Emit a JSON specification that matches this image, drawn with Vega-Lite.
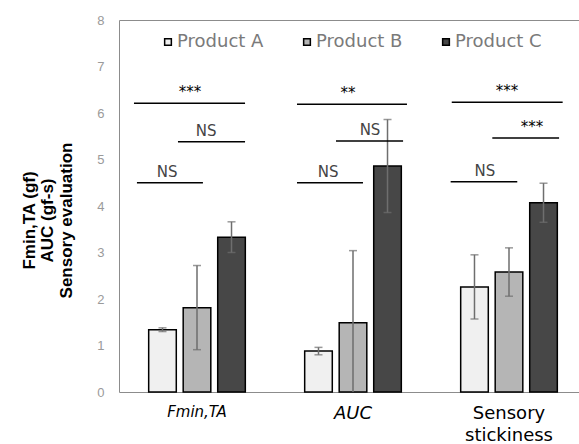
{
  "$schema": "https://vega.github.io/schema/vega-lite/v6.json",
  "width": 460,
  "height": 372,
  "autosize": {"type": "none"},
  "padding": {"left": 119, "top": 20, "right": 0, "bottom": 52},
  "background": "white",
  "config": {
    "view": {"stroke": null},
    "font": "DejaVu Sans",
    "axisY": {"titleFontSize": 17, "titleFont": "Liberation Sans", "titleFontWeight": "bold", "titleColor": "black"}
  },
  "datasets": {
    "bars": [
      {"group": "Fmin,TA", "product": "Product A", "value": 1.34, "lo": 1.30, "hi": 1.38},
      {"group": "Fmin,TA", "product": "Product B", "value": 1.81, "lo": 0.91, "hi": 2.72},
      {"group": "Fmin,TA", "product": "Product C", "value": 3.33, "lo": 3.00, "hi": 3.66},
      {"group": "AUC", "product": "Product A", "value": 0.88, "lo": 0.80, "hi": 0.96},
      {"group": "AUC", "product": "Product B", "value": 1.49, "lo": -0.06, "hi": 3.04},
      {"group": "AUC", "product": "Product C", "value": 4.86, "lo": 3.86, "hi": 5.86},
      {"group": "Sensory stickiness", "product": "Product A", "value": 2.26, "lo": 1.57, "hi": 2.95},
      {"group": "Sensory stickiness", "product": "Product B", "value": 2.58, "lo": 2.06, "hi": 3.10},
      {"group": "Sensory stickiness", "product": "Product C", "value": 4.07, "lo": 3.65, "hi": 4.49}
    ],
    "sig": [
      {"x1": 0.096, "x2": 0.808, "y": 6.21, "lx": 0.455, "label": "***"},
      {"x1": 0.378, "x2": 0.808, "y": 5.38, "lx": 0.558, "label": "NS"},
      {"x1": 0.115, "x2": 0.538, "y": 4.50, "lx": 0.308, "label": "NS"},
      {"x1": 1.141, "x2": 1.846, "y": 6.19, "lx": 1.468, "label": "**"},
      {"x1": 1.391, "x2": 1.821, "y": 5.40, "lx": 1.609, "label": "NS"},
      {"x1": 1.141, "x2": 1.564, "y": 4.50, "lx": 1.340, "label": "NS"},
      {"x1": 2.133, "x2": 2.844, "y": 6.23, "lx": 2.487, "label": "***"},
      {"x1": 2.393, "x2": 2.821, "y": 5.46, "lx": 2.647, "label": "***"},
      {"x1": 2.126, "x2": 2.553, "y": 4.52, "lx": 2.346, "label": "NS"}
    ]
  },
  "layer": [
    {
      "data": {"name": "bars"},
      "encoding": {
        "x": {
          "field": "group", "type": "nominal",
          "sort": ["Fmin,TA", "AUC", "Sensory stickiness"],
          "scale": {"range": [0, 468], "paddingInner": 0, "paddingOuter": 0},
          "axis": {
            "title": null, "ticks": false, "domain": true, "domainColor": "#8c8c8c", "domainWidth": 1,
            "labelAngle": 0, "labelColor": "black", "labelPadding": 12, "labelLineHeight": 22,
            "labelFont": "DejaVu Sans",
            "labelExpr": "datum.value == 'Sensory stickiness' ? ['Sensory', 'stickiness'] : datum.value",
            "labelFontSize": {"condition": {"test": "datum.value == 'Fmin,TA'", "value": 15}, "value": 18},
            "labelFontStyle": {"condition": {"test": "datum.value != 'Sensory stickiness'", "value": "italic"}, "value": "normal"}
          }
        },
        "xOffset": {
          "field": "product", "type": "nominal",
          "scale": {"paddingInner": 0.2, "paddingOuter": 0.86}
        }
      },
      "layer": [
        {
          "mark": {"type": "bar", "stroke": "black", "strokeWidth": 1.5},
          "encoding": {
            "y": {
              "field": "value", "type": "quantitative",
              "scale": {"domain": [0, 8], "nice": false},
              "axis": {
                "values": [0, 1, 2, 3, 4, 5, 6, 7, 8], "grid": false, "ticks": false,
                "domain": true, "domainColor": "#8c8c8c", "domainWidth": 1,
                "labelColor": "#9a9a9a", "labelFontSize": 13, "labelFont": "Liberation Sans", "labelPadding": 15,
                "title": ["Fmin,TA (gf)", "AUC (gf-s)", "Sensory evaluation"],
                "titleFont": "Liberation Sans", "titleFontSize": 17, "titleFontWeight": "bold", "titleColor": "black",
                "titleX": -90, "titleY": 200, "titleAngle": 270, "titleAlign": "center", "titleBaseline": "middle",
                "titleLineHeight": 18.5, "titleLimit": 400
              }
            },
            "fill": {
              "field": "product", "type": "nominal",
              "scale": {"domain": ["Product A", "Product B", "Product C"], "range": ["#f0f0f0", "#b5b5b5", "#474747"]},
              "legend": {
                "orient": "none", "legendX": 40, "legendY": 13, "direction": "horizontal", "columns": 3,
                "gridAlign": "all",
                "title": null, "symbolType": "square", "symbolSize": 45,
                "symbolStrokeColor": "black", "symbolStrokeWidth": 1.5,
                "labelFontSize": 18, "labelColor": "#7a7a7a", "labelFont": "DejaVu Sans",
                "labelOffset": 0, "columnPadding": 34
              }
            }
          }
        },
        {
          "mark": {"type": "rule", "color": "#6e6e6e", "strokeWidth": 1.5, "clip": true},
          "encoding": {
            "y": {"field": "lo", "type": "quantitative"},
            "y2": {"field": "hi"}
          }
        },
        {
          "mark": {"type": "tick", "color": "#6e6e6e", "size": 8, "thickness": 1.5},
          "encoding": {"y": {"field": "hi", "type": "quantitative"}}
        },
        {
          "mark": {"type": "tick", "color": "#6e6e6e", "size": 8, "thickness": 1.5, "clip": true},
          "encoding": {"y": {"field": "lo", "type": "quantitative"}}
        }
      ]
    },
    {
      "data": {"name": "sig"},
      "encoding": {
        "y": {"field": "y", "type": "quantitative"}
      },
      "layer": [
        {
          "mark": {"type": "rule", "color": "black", "strokeWidth": 1.5},
          "encoding": {
            "x": {
              "field": "x1", "type": "quantitative",
              "scale": {"domain": [0, 3], "range": [0, 468], "nice": false, "zero": false},
              "axis": {"orient": "top", "labels": false, "ticks": false, "grid": false, "title": null,
                       "domain": true, "domainColor": "#8c8c8c", "domainWidth": 1}
            },
            "x2": {"field": "x2"}
          }
        },
        {
          "mark": {"type": "text", "baseline": "alphabetic", "align": "center", "dy": -6, "fontSize": 15, "font": "DejaVu Sans"},
          "encoding": {
            "x": {"field": "lx", "type": "quantitative"},
            "text": {"field": "label"},
            "color": {"condition": {"test": "datum.label == 'NS'", "value": "#444444"}, "value": "black"}
          }
        }
      ]
    }
  ],
  "resolve": {"scale": {"x": "independent"}}
}
